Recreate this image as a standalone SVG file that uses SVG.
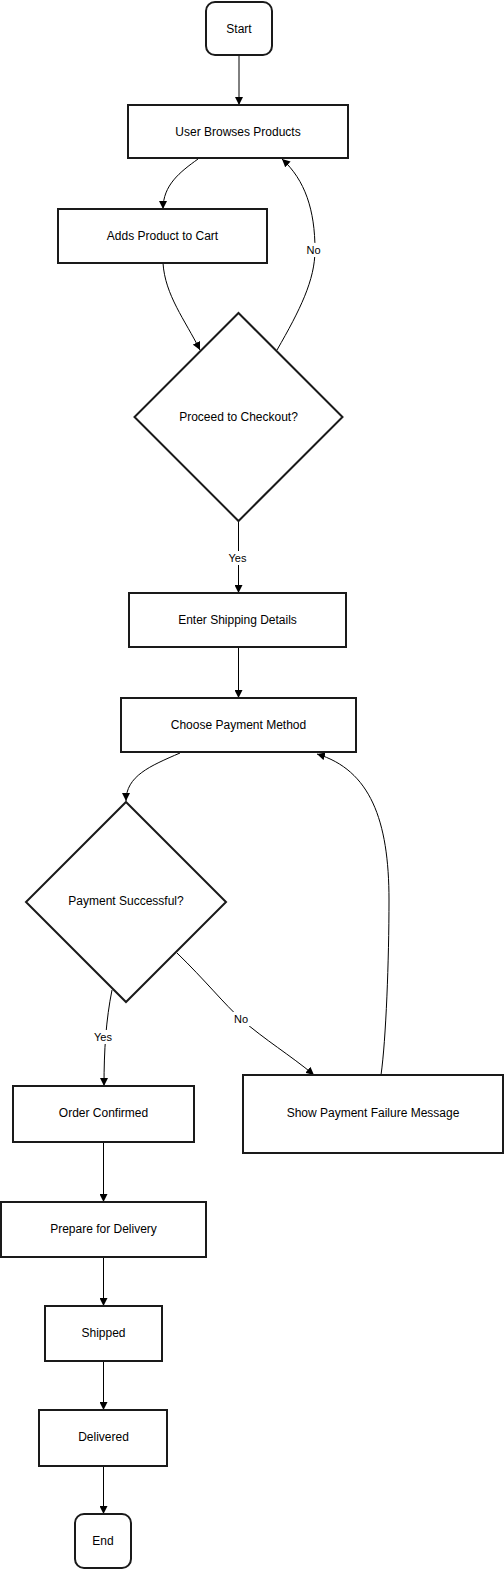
<svg xmlns="http://www.w3.org/2000/svg" width="504" height="1570" viewBox="0 0 504 1570">
<style>
.n{fill:#fff;stroke:#1a1a1a;stroke-width:2}
.t{font-family:"Liberation Sans",Arial,sans-serif;font-size:12px;fill:#000;text-anchor:middle;dominant-baseline:central}
.l{font-family:"Liberation Sans",Arial,sans-serif;font-size:11px;fill:#000;text-anchor:middle;dominant-baseline:central}
.e{fill:none;stroke:#000;stroke-width:1;marker-end:url(#a)}
.lb{fill:#fff}
</style>
<defs>
<marker id="a" viewBox="0 0 10 10" refX="10" refY="5" markerWidth="8" markerHeight="8" markerUnits="userSpaceOnUse" orient="auto">
<path d="M0,0L10,5L0,10z" fill="#000"/>
</marker>
</defs>
<rect width="504" height="1570" fill="#fff"/>
<g id="connectors">
<path class="e" d="M239,55V105"/>
<path class="e" d="M198,159C180,172 163,185 163,209"/>
<path class="e" d="M163,263C165,295 185,320 200,350"/>
<path class="e" d="M277,350C300,310 315,280 315,250C315,210 305,180 282,159"/>
<path class="e" d="M238.5,521V593"/>
<path class="e" d="M238.5,647V698"/>
<path class="e" d="M180,753C150,766 126,776 126,801"/>
<path class="e" d="M112,990C106,1020 104,1050 104,1086"/>
<path class="e" d="M177,953C205,980 225,1005 241,1019C265,1040 290,1055 314,1075"/>
<path class="e" d="M381,1075C386,1040 389,960 389,900C389,820 370,770 317,754"/>
<path class="e" d="M103.5,1142V1202"/>
<path class="e" d="M103.5,1257V1306"/>
<path class="e" d="M103.5,1361V1410"/>
<path class="e" d="M103.5,1466V1514"/>
<rect class="lb" x="305" y="243" width="17" height="14"/>
<text class="l" x="313.5" y="250">No</text>
<rect class="lb" x="227" y="551" width="21" height="14"/>
<text class="l" x="237.5" y="558">Yes</text>
<rect class="lb" x="92" y="1030" width="22" height="14"/>
<text class="l" x="103" y="1037">Yes</text>
<rect class="lb" x="232" y="1012" width="18" height="14"/>
<text class="l" x="241" y="1019">No</text>
</g>
<g id="start"><rect class="n" x="206" y="2" width="66" height="53" rx="9"/><text class="t" x="239" y="28.5">Start</text></g>
<g id="browse"><rect class="n" x="128" y="105" width="220" height="53"/><text class="t" x="238" y="131.5">User Browses Products</text></g>
<g id="addcart"><rect class="n" x="58" y="209" width="209" height="54"/><text class="t" x="162.5" y="236">Adds Product to Cart</text></g>
<g id="checkout"><path class="n" d="M238.5,313L342.5,417L238.5,521L134.5,417Z"/><text class="t" x="238.5" y="417">Proceed to Checkout?</text></g>
<g id="shipping"><rect class="n" x="129" y="593" width="217" height="54"/><text class="t" x="237.5" y="620">Enter Shipping Details</text></g>
<g id="payment"><rect class="n" x="121" y="698" width="235" height="54"/><text class="t" x="238.5" y="725">Choose Payment Method</text></g>
<g id="success"><path class="n" d="M126,802L226,902L126,1002L26,902Z"/><text class="t" x="126" y="901">Payment Successful?</text></g>
<g id="confirmed"><rect class="n" x="13" y="1086" width="181" height="56"/><text class="t" x="103.5" y="1113">Order Confirmed</text></g>
<g id="failure"><rect class="n" x="243" y="1075" width="260" height="78"/><text class="t" x="373" y="1113">Show Payment Failure Message</text></g>
<g id="prepare"><rect class="n" x="1" y="1202" width="205" height="55"/><text class="t" x="103.5" y="1229">Prepare for Delivery</text></g>
<g id="shipped"><rect class="n" x="45" y="1306" width="117" height="55"/><text class="t" x="103.5" y="1333">Shipped</text></g>
<g id="delivered"><rect class="n" x="39" y="1410" width="128" height="56"/><text class="t" x="103.5" y="1437">Delivered</text></g>
<g id="end"><rect class="n" x="75" y="1514" width="56" height="54" rx="9"/><text class="t" x="103" y="1541">End</text></g>
</svg>
